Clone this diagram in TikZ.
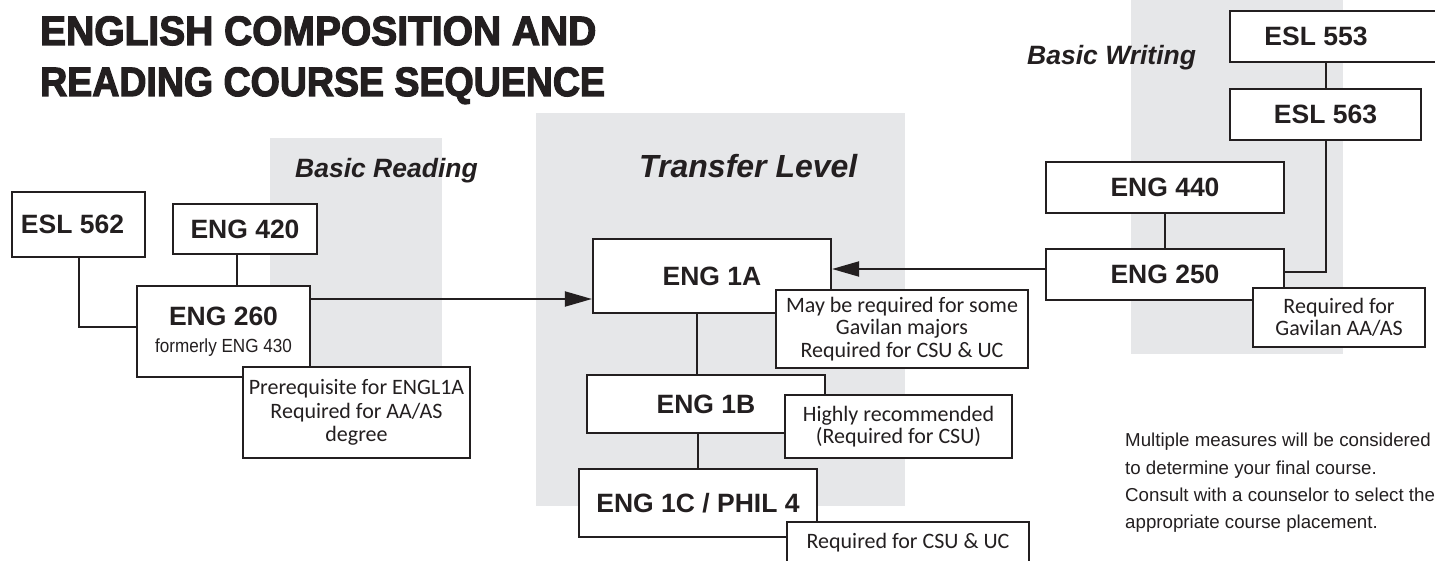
\documentclass[tikz,border=0pt]{standalone}
\usepackage{fontspec}
\setmainfont{Liberation Sans}
\newfontfamily\notefont{Carlito}
\newfontfamily\heavyfont[FakeBold=3]{Liberation Sans Bold}
\usepackage{tikz}
\usetikzlibrary{arrows.meta,positioning}

\definecolor{panelgray}{RGB}{230,231,233}
\definecolor{ink}{RGB}{35,31,32}

\tikzset{
  course/.style={draw=ink, line width=2.2pt, fill=white, text=ink, inner sep=0pt,
    font=\fontsize{26.5}{29}\selectfont\bfseries},
  note/.style={draw=ink, line width=1.8pt, fill=white, text=ink, inner sep=0pt, align=center,
    font=\notefont\fontsize{22}{22.5}\selectfont},
  header/.style={anchor=base west, inner sep=0pt, text=ink},
  titleline/.style={anchor=base west, inner sep=0pt, text=ink, font=\heavyfont\fontsize{41}{51}\selectfont},
  link/.style={draw=ink, line width=2pt},
  arrowlink/.style={link, -{Triangle[length=27pt,width=15pt]}}
}

\begin{document}
\begin{tikzpicture}[x=1pt, y=-1pt]

    \useasboundingbox (0,0) rectangle (1435,561);

    % GRAY PANELS
    \fill[panelgray] (270,138) rectangle (442,368);
    \fill[panelgray] (536,113) rectangle (905,506);
    \fill[panelgray] (1131,0) rectangle (1343,354);

    % TITLE AND HEADERS
    \node[titleline] (title1) at (40,45) {\scalebox{0.95}[1]{ENGLISH COMPOSITION AND}};
    \node[titleline] (title2) at (40,96) {\scalebox{0.915}[1]{READING COURSE SEQUENCE}};
    \node[header, font=\bfseries\itshape\fontsize{26.5}{30}\selectfont] (readhead) at (295,178) {Basic Reading};
    \node[header, font=\bfseries\itshape\fontsize{32}{36}\selectfont] (transhead) at (639,178) {Transfer Level};
    \node[header, font=\bfseries\itshape\fontsize{26.5}{30}\selectfont] (writehead) at (1027,65) {Basic Writing};

    % READING COURSES
    \node[course, minimum width=133pt, minimum height=65pt] (esl562) at (78.5,224.5) {ESL 562\hspace*{12pt}};
    \node[course, minimum width=144pt, minimum height=50pt] (eng420) at (245,229) {ENG 420};
    \node[course, minimum width=173pt, minimum height=91pt, align=center] (eng260) at (223.5,331.5)
      {ENG 260\\[-2pt]{\mdseries\fontsize{19}{22}\selectfont\scalebox{0.9}[1]{formerly ENG 430}}};
    \node[note, minimum width=227pt, minimum height=91pt, font=\notefont\fontsize{22}{23.5}\selectfont]
      (note260) at (356.5,412.5) {Prerequisite for ENGL1A\\Required for AA/AS\\degree};

    % TRANSFER COURSES
    \node[course, minimum width=238pt, minimum height=74pt] (eng1a) at (712,276) {ENG 1A};
    \node[note, minimum width=252pt, minimum height=78pt] (note1a) at (902,329)
      {May be required for some\\Gavilan majors\\Required for CSU \& UC};
    \node[course, minimum width=238pt, minimum height=58pt] (eng1b) at (706,404) {ENG 1B};
    \node[note, minimum width=227pt, minimum height=63pt] (note1b) at (898.5,426.5)
      {Highly recommended\\(Required for CSU)};
    \node[course, minimum width=238pt, minimum height=68pt] (eng1c) at (698,503) {ENG 1C / PHIL 4};
    \node[note, minimum width=242pt, minimum height=42pt] (note1c) at (908,543) {Required for CSU \& UC};

    % WRITING COURSES
    \node[course, minimum width=215pt, minimum height=51pt] (esl553) at (1337.5,36.5) {ESL 553\hspace*{43pt}};
    \node[course, minimum width=191pt, minimum height=51pt] (esl563) at (1325.5,114.5) {ESL 563};
    \node[course, minimum width=238pt, minimum height=51pt] (eng440) at (1165,187.5) {ENG 440};
    \node[course, minimum width=238pt, minimum height=51pt] (eng250) at (1165,274.5) {ENG 250};
    \node[note, minimum width=172pt, minimum height=59pt] (note250) at (1339,317.5)
      {Required for\\Gavilan AA/AS};

    % REMARK
    \node[anchor=north west, inner sep=0pt, align=left, text=ink, font=\fontsize{18.7}{27.3}\selectfont]
      (remark) at (1125,433) {Multiple measures will be considered\\to determine your final course.\\
      Consult with a counselor to select the\\appropriate course placement.};

    % CONNECTORS
    \coordinate (rdin) at ([yshift=-23pt]eng1a.west);
    \coordinate (wrin) at ([yshift=7pt]eng1a.east);
    \draw[link] (esl562.south) |- ([yshift=4pt]eng260.west);
    \draw[link] ([xshift=-8pt]eng420.south) -- ([xshift=-8pt]eng420.south |- eng260.north);
    \draw[arrowlink] (eng260.east |- rdin) -- (rdin);
    \draw[arrowlink] (eng250.west |- wrin) -- (wrin);
    \draw[link] ([xshift=-15pt]eng1a.south) -- ([xshift=-15pt]eng1a.south |- eng1b.north);
    \draw[link] (eng1c.north |- eng1b.south) -- (eng1c.north);
    \draw[link] (eng440.south) -- (eng250.north);
    \draw[link] (esl563.north |- esl553.south) -- (esl563.north);
    \draw[link] (esl563.south) |- ([yshift=2.5pt]eng250.east);

\end{tikzpicture}
\end{document}
